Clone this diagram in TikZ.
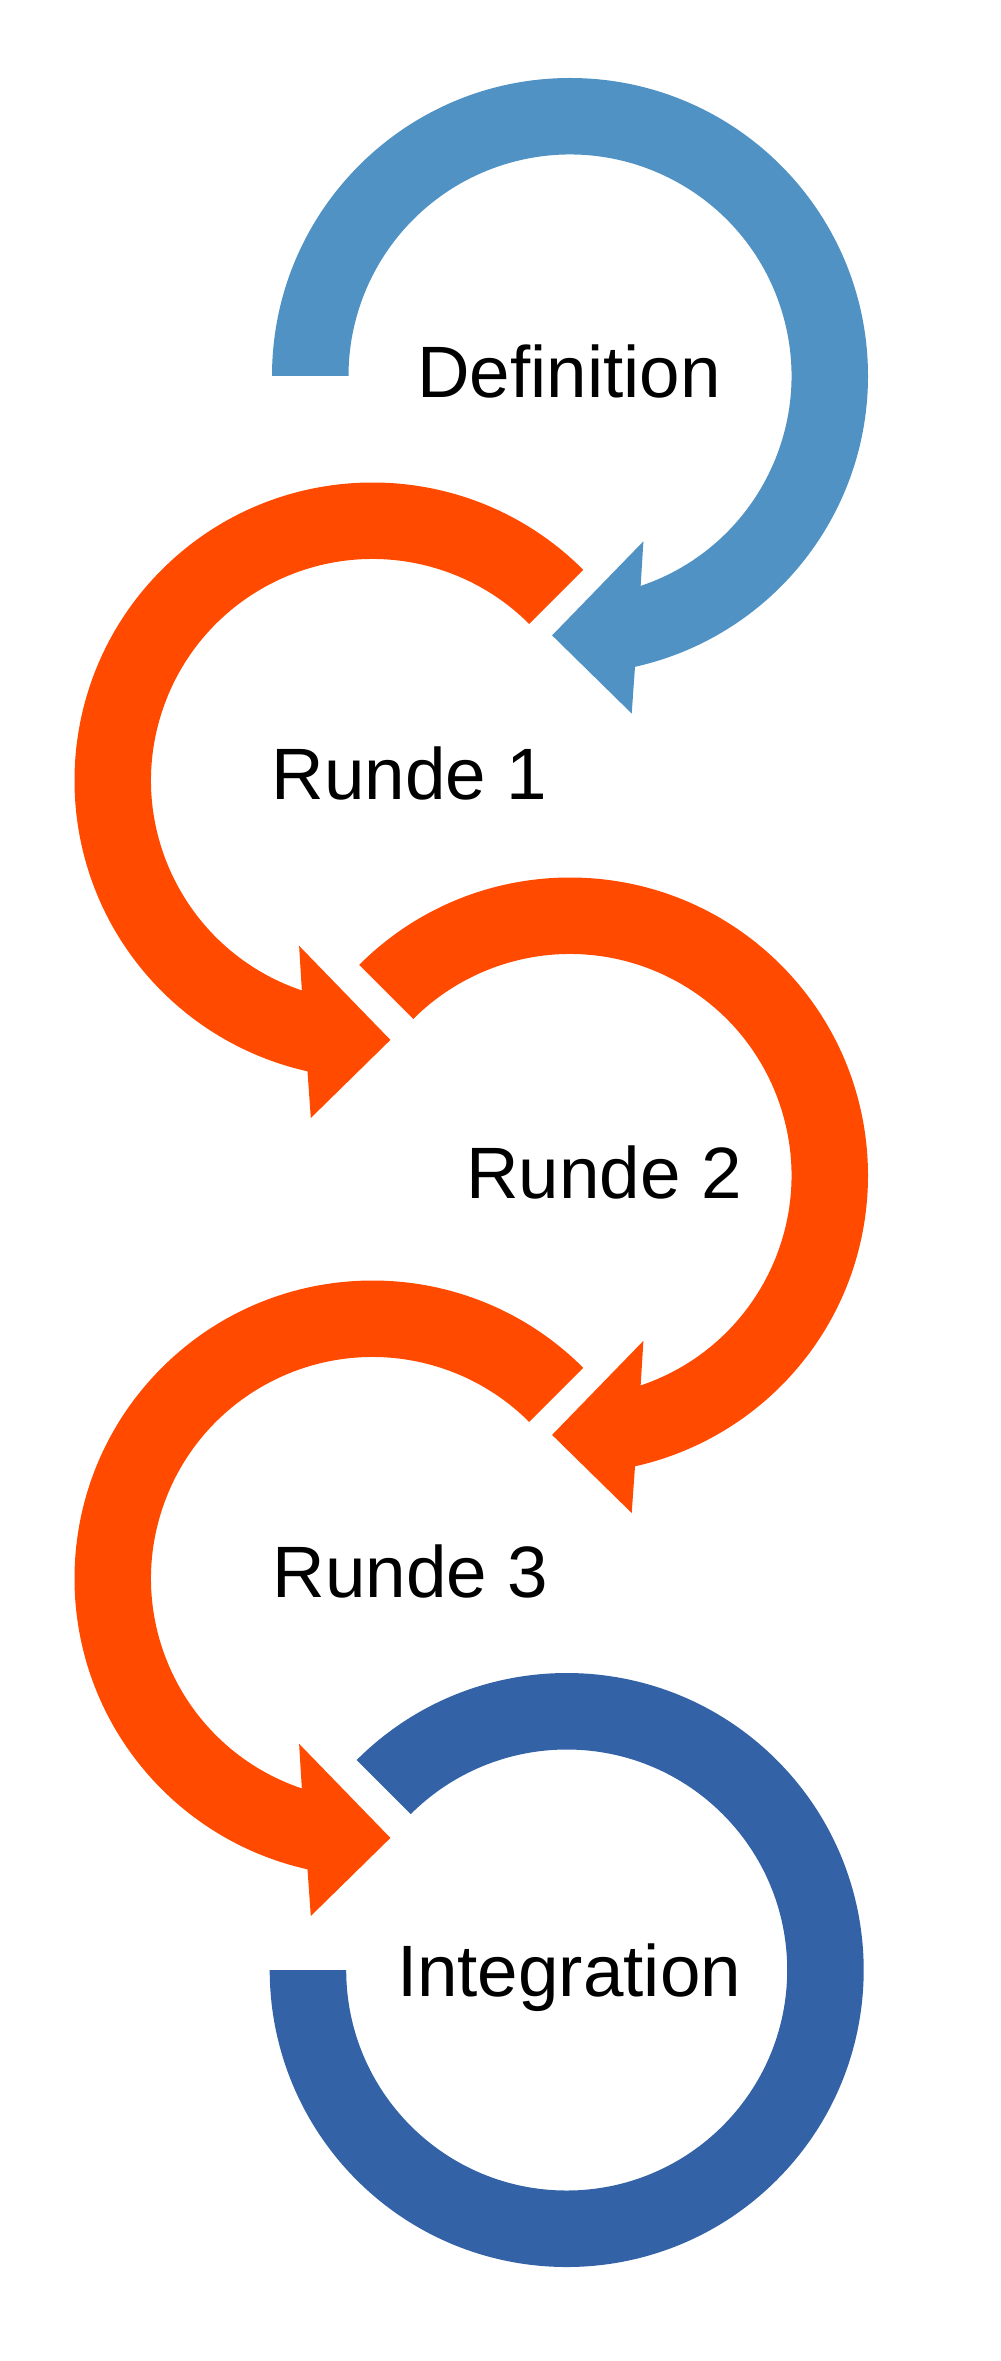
\documentclass[tikz,border=0pt]{standalone}
\usepackage{fontspec}
\setmainfont{Liberation Sans}
\usepackage{tikz}
\usetikzlibrary{calc}

\definecolor{defblue}{HTML}{4F92C3}
\definecolor{rndorange}{HTML}{FF4A00}
\definecolor{intblue}{HTML}{3362A7}

\begin{document}
\begin{tikzpicture}[
    x=0.01cm, y=-0.01cm,
    lb/.style={font=\fontsize{20.7}{24}\selectfont, anchor=base, inner sep=0pt},
]
    \useasboundingbox (0,0) rectangle (1000,2361);
    % centres of the loops
    \coordinate (cdef) at (570,376);
    \coordinate (cr1) at (372.5,780.5);
    \coordinate (cr2) at (570,1175.5);
    \coordinate (cr3) at (372.5,1578.5);
    \coordinate (cint) at (566.7,1970);

    % Definition
    \begin{scope}[shift={(cdef)}]
        \fill[defblue] (180:298) arc[start angle=180, end angle=437.4, radius=298]
            -- (61.7,337.5) -- (-17.9,259.4) -- (73.4,165.3) -- (431.4:221.5)
            arc[start angle=431.4, end angle=180, radius=221.5] -- cycle;
    \end{scope}
    % Runde 1
    \begin{scope}[shift={(cr1)}, xscale=-1]
        \fill[rndorange] (225:298) arc[start angle=225, end angle=437.4, radius=298]
            -- (61.7,337.5) -- (-17.9,259.4) -- (73.4,165.3) -- (431.4:221.5)
            arc[start angle=431.4, end angle=225, radius=221.5] -- cycle;
    \end{scope}
    % Runde 2
    \begin{scope}[shift={(cr2)}]
        \fill[rndorange] (225:298) arc[start angle=225, end angle=437.4, radius=298]
            -- (61.7,337.5) -- (-17.9,259.4) -- (73.4,165.3) -- (431.4:221.5)
            arc[start angle=431.4, end angle=225, radius=221.5] -- cycle;
    \end{scope}
    % Runde 3
    \begin{scope}[shift={(cr3)}, xscale=-1]
        \fill[rndorange] (225:298) arc[start angle=225, end angle=437.4, radius=298]
            -- (61.7,337.5) -- (-17.9,259.4) -- (73.4,165.3) -- (431.4:221.5)
            arc[start angle=431.4, end angle=225, radius=221.5] -- cycle;
    \end{scope}
    % Integration
    \begin{scope}[shift={(cint)}]
        \fill[intblue] (225:297) arc[start angle=225, end angle=540, radius=297]
            -- (540:220.5) arc[start angle=540, end angle=225, radius=220.5] -- cycle;
    \end{scope}

    \node[lb] (def) at (569,398) {Definition};
    \node[lb] (r1) at (409.5,799) {Runde 1};
    \node[lb] (r2) at (604,1198) {Runde 2};
    \node[lb] (r3) at (410.4,1597.5) {Runde 3};
    \node[lb] (int) at (569,1996) {Integration};
\end{tikzpicture}
\end{document}
